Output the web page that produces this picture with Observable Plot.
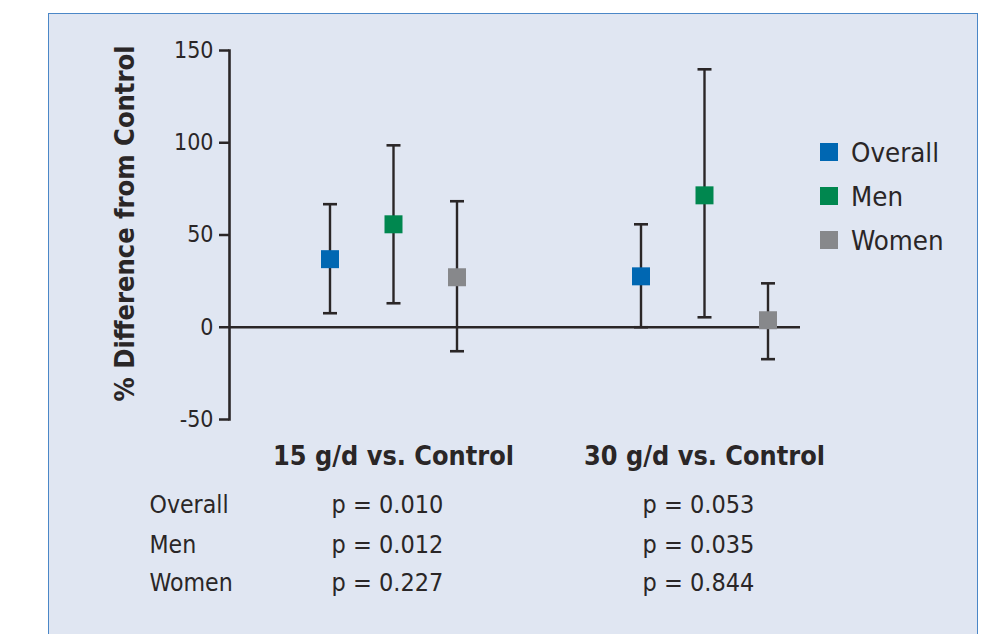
<!DOCTYPE html>
<html>
<head>
<meta charset="utf-8">
<script src="https://cdn.jsdelivr.net/npm/d3@7"></script>
<script src="https://cdn.jsdelivr.net/npm/@observablehq/plot@0.6"></script>
<style>
html, body { margin: 0; padding: 0; background: #ffffff; width: 996px; height: 634px; overflow: hidden; }
#panel { position: absolute; left: 48px; top: 13px; width: 928px; height: 700px; border: 1.6px solid #4b87c7; background: #e0e6f2; }
#chart { position: absolute; left: 0; top: 0; }
#legend { position: absolute; left: 820px; top: 130px; }
.lg-swatch { height: 44px; padding-bottom: 0 !important; margin: 0 !important; }
.lg-swatch svg { margin-right: 13px !important; }
</style>
</head>
<body>
<div id="panel"></div>
<div id="chart"></div>
<div id="legend"></div>
<script>
// ---- data ----
const groups = ["15 g/d vs. Control", "30 g/d vs. Control"];
const series = ["Overall", "Men", "Women"];
const mean15 = [36.9, 55.8, 27.1];
const low15  = [7.6, 13.0, -13.0];
const high15 = [66.7, 98.6, 68.3];
const mean30 = [27.6, 71.5, 3.8];
const low30  = [0.0, 5.4, -17.3];
const high30 = [55.8, 139.8, 23.8];
const p15 = ["0.010", "0.012", "0.227"];
const p30 = ["0.053", "0.035", "0.844"];
const yTicks = [-50, 0, 50, 100, 150];
const colors = ["#0067b2", "#00874f", "#87888b"];

// ---- layout / style ----
const INK = "#2a2627";
const FONT = '"Liberation Sans Narrow", "Arial Narrow", "DejaVu Sans Condensed", sans-serif';
const seriesDx = [-63.5, 0, 63.5];
const rowDy = [93, 133, 171];

const rows = [];
series.forEach((s, i) => {
  rows.push({group: groups[0], series: s, mean: mean15[i], low: low15[i], high: high15[i], p: p15[i]});
  rows.push({group: groups[1], series: s, mean: mean30[i], low: low30[i], high: high30[i], p: p30[i]});
});

const capSymbol = {
  draw(ctx, size) {
    const r = Math.sqrt(size / Math.PI);
    ctx.moveTo(-r, 0);
    ctx.lineTo(r, 0);
  }
};

const marks = [
  Plot.ruleY([0], {stroke: INK, strokeWidth: 2.5}),
  Plot.frame({anchor: "left", stroke: INK, strokeWidth: 2.6}),
  Plot.axisY({ticks: yTicks, tickFormat: d => String(d), tickSize: 10, tickPadding: 6, fontSize: 23, strokeWidth: 2.5, color: INK, label: null}),
  Plot.axisX({tickSize: 0, tickPadding: 26.5, fontSize: 26.8, fontWeight: "bold", color: INK, label: null}),
  Plot.text(["% Difference from Control"], {text: d => d, frameAnchor: "left", textAnchor: "middle", rotate: -90, dx: -104, dy: -11.5, fontSize: 27, fontWeight: "bold", fill: INK})
];

series.forEach((s, i) => {
  const sub = rows.filter(d => d.series === s);
  marks.push(
    Plot.ruleX(sub, {x: "group", y1: "low", y2: "high", dx: seriesDx[i], stroke: INK, strokeWidth: 2.4}),
    Plot.dot(sub, {x: "group", y: "low", dx: seriesDx[i], symbol: capSymbol, r: 7, stroke: INK, strokeWidth: 2.6, fill: "none"}),
    Plot.dot(sub, {x: "group", y: "high", dx: seriesDx[i], symbol: capSymbol, r: 7, stroke: INK, strokeWidth: 2.6, fill: "none"}),
    Plot.dot(sub, {x: "group", y: "mean", dx: seriesDx[i], symbol: "square", r: 10.15, fill: "series"}),
    Plot.text(sub, {x: "group", text: d => `p = ${d.p}`, frameAnchor: "bottom", lineAnchor: "bottom", dx: -6, dy: rowDy[i], fontSize: 25, fill: INK}),
    Plot.text([s], {text: d => d, frameAnchor: "bottom-left", textAnchor: "start", lineAnchor: "bottom", dx: -80, dy: rowDy[i], fontSize: 24.6, fill: INK})
  );
});

const chart = Plot.plot({
  width: 996,
  height: 634,
  marginLeft: 229,
  marginRight: 196,
  marginTop: 50,
  marginBottom: 215,
  style: {background: "transparent", fontFamily: FONT, overflow: "visible"},
  x: {type: "point", domain: groups, padding: 0.418, align: 0.629},
  y: {domain: [-50, 150]},
  color: {domain: series, range: colors},
  marks
});
document.getElementById("chart").appendChild(chart);

const legend = Plot.legend({
  color: {domain: series, range: colors},
  legend: "swatches",
  columns: 1,
  swatchSize: 18,
  className: "lg",
  style: {fontSize: "27.4px", fontFamily: FONT, color: INK}
});
document.getElementById("legend").appendChild(legend);
</script>
</body>
</html>
